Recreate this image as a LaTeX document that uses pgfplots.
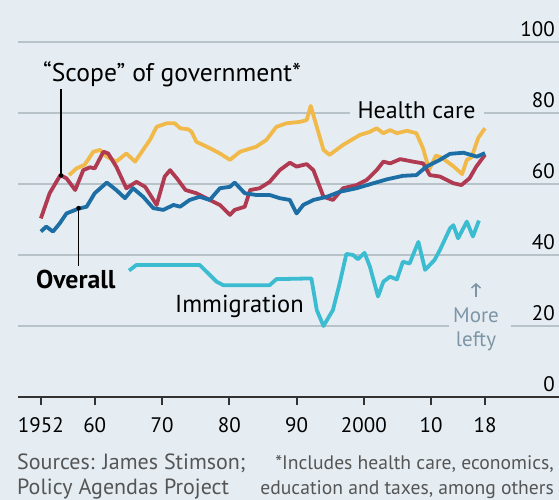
\documentclass[border=0pt]{standalone}
\usepackage{pgfplots}
\pgfplotsset{compat=1.18}
\usepackage{fontspec}
\setmainfont{PT Sans}
\usetikzlibrary{arrows.meta}

\definecolor{bg}{HTML}{E5EDF3}
\definecolor{gridc}{HTML}{B7C2C9}
\definecolor{axisc}{HTML}{333333}
\definecolor{hc}{HTML}{F1B94A}
\definecolor{scope}{HTML}{B03A52}
\definecolor{overall}{HTML}{1C6EA4}
\definecolor{immig}{HTML}{3CBCD0}
\definecolor{lefty}{HTML}{7D95A5}
\definecolor{foot}{HTML}{555555}

\newcommand{\lab}{\fontsize{24bp}{28bp}\selectfont}
\newcommand{\tck}{\fontsize{21bp}{24bp}\selectfont}

\begin{document}
\begin{tikzpicture}[x=1bp,y=1bp]
\fill[bg] (0,0) rectangle (559,500);

\begin{axis}[
at={(18bp,103bp)}, anchor=south west,
scale only axis,
width=541bp, height=355bp,
xmin=1948.6, xmax=2029,
ymin=0, ymax=100,
axis x line*=bottom,
axis y line*=right,
y axis line style={draw=none},
x axis line style={line width=2bp, color=axisc, -},
xtick={1952,1960,1970,1980,1990,2000,2010,2018},
xticklabels={1952,60,70,80,90,2000,10,18},
xtick style={line width=2bp, color=axisc},
tick align=outside,
major tick length=8bp,
ytick={0,20,40,60,80,100},
yticklabels={0,20,40,60,80,100},
ytick style={draw=none},
ymajorgrids,
major grid style={line width=1.6bp, color=gridc},
xticklabel style={font=\tck, text=black, inner sep=0pt, yshift=-12bp},
yticklabel style={font=\tck, text=black, anchor=south east, inner sep=0pt, xshift=-12bp, yshift=5bp},
clip=false,
]

% Health care
\addplot[hc, line width=3.8bp, line join=round] coordinates {
(1956.2,62.5) (1957.3,64.4) (1958.5,65.4) (1959.8,69.1) (1960.8,69.6)
(1961.8,67.7) (1963.2,66.3) (1964.7,68.6) (1966,66.3) (1968.2,72.4)
(1969.2,76.1) (1970.7,77.1) (1971.9,77.1) (1972.7,75.7) (1973.9,75.4)
(1974.4,74.7) (1975.1,71.9) (1977.1,70.1) (1978.6,68.6) (1980.1,66.8)
(1981.6,69.1) (1984,70.5) (1985.5,72.4) (1987,76.1) (1988.5,77.1)
(1990.5,77.5) (1991.5,78) (1992.1,82) (1993,76.1) (1994,69.6)
(1994.9,68.2) (1996.9,71) (1999.4,73.8) (2000.9,74.7) (2001.9,75.7)
(2002.9,74.3) (2003.9,75.2) (2004.9,74.3) (2006.4,75) (2007.8,74.3)
(2008.8,70) (2009.7,64) (2010.7,68) (2011.5,67.5) (2013.3,65)
(2014.6,62.8) (2015.3,66.8) (2016,67.5) (2017,73) (2018,75.7)
};

% Scope of government
\addplot[scope, line width=3.8bp, line join=round] coordinates {
(1952,50.3) (1953.3,57.4) (1954.9,62.5) (1955.8,61.6) (1957.1,58.3)
(1958.3,63.9) (1959.3,64.7) (1960,64.4) (1961.3,69.1) (1962,68.6)
(1963.2,64.9) (1964.7,58.8) (1966.2,60.6) (1967.5,59.2) (1969.2,54.1)
(1970.4,62.1) (1971.2,63.9) (1972.2,61.6) (1973.5,58.3) (1975.1,57.4)
(1977.1,55.5) (1978.6,54.1) (1980.1,51.3) (1980.8,52.7) (1982.3,53.6)
(1983.1,58.3) (1984.5,58.8) (1986,60.6) (1987.5,63.9) (1989,66)
(1990,64.9) (1991.5,65.6) (1992.5,63.9) (1994,56.4) (1995.4,55.5)
(1996.9,58.8) (1998.9,59.7) (2000.4,61.1) (2001.9,63.9) (2002.9,66.3)
(2003.9,65.8) (2005.4,67) (2007.3,66.3) (2008.8,65.8) (2009.8,62.5)
(2011.3,62.1) (2013.3,60.2) (2014.5,59.7) (2015.7,61.6) (2016.7,64.9)
(2018,68.2)
};

% Overall
\addplot[overall, line width=3.8bp, line join=round] coordinates {
(1952,46.6) (1952.8,48) (1953.8,46.6) (1954.8,48.9) (1955.8,51.7)
(1957.5,53) (1958.8,53.6) (1960,57.4) (1961.8,60.4) (1963.2,58.3)
(1964.5,56) (1965.7,58.8) (1967.2,56.4) (1968.7,53.2) (1970.2,52.7)
(1971.7,54.1) (1972.7,53.6) (1974.1,55.5) (1975.6,56.4) (1977.1,55.5)
(1978.6,58.8) (1980.1,59.2) (1980.8,60.4) (1982.3,57.4) (1984,56.9)
(1986,56.9) (1987.5,56) (1989,55.5) (1990,51.7) (1991,54.1)
(1992.5,55.5) (1994.5,56.4) (1996.4,57.8) (1998.9,58.8) (2001.4,60.2)
(2003.4,61.3) (2005.8,62.3) (2007.8,62.5) (2009.3,64.9) (2011.3,66.8)
(2012.8,68.5) (2014.8,68.8) (2016.8,67.7) (2018,68.7)
};

% Immigration
\addplot[immig, line width=3.8bp, line join=round] coordinates {
(1965.1,35.6) (1966.2,37.2) (1975.6,37.2) (1978.1,32.5) (1979.1,31.5)
(1986,31.5) (1987,33.2) (1992.2,33.4) (1993,24.5) (1994,20)
(1995.4,24.5) (1996.4,32) (1997.4,40.3) (1998.4,40) (1999.1,38.8)
(2000.1,40.6) (2000.9,36.7) (2002.1,28.3) (2002.9,32.5) (2003.9,33.9)
(2004.9,33.1) (2005.8,38.1) (2006.8,37.6) (2007.3,40) (2008.1,43.7)
(2009.1,35.8) (2010.5,38.6) (2011.3,41.4) (2012.8,47.5) (2013.3,48.4)
(2014,44.7) (2015.3,49.4) (2016.2,45.2) (2017.1,49.7)
};

% leader lines
\draw[line width=1.3bp, black] (axis cs:1955,62.4) -- (axis cs:1955,86.8);
\fill[black] (axis cs:1955,62.4) circle (2.3bp);
\draw[line width=1.3bp, black] (axis cs:1957.6,53.2) -- (axis cs:1957.6,36.8);
\fill[black] (axis cs:1957.6,53.2) circle (2.3bp);
\end{axis}

% labels
\node[anchor=base west, font=\fontsize{25.6bp}{28bp}\selectfont, inner sep=0pt] at (43,418) {“Scope” of government*};
\node[anchor=base west, font=\fontsize{25.8bp}{28bp}\selectfont\bfseries, inner sep=0pt] at (36,211) {Overall};
\node[anchor=base west, font=\fontsize{24.5bp}{28bp}\selectfont, inner sep=0pt] at (175,187) {Immigration};
\node[anchor=base, font=\lab, fill=bg, inner xsep=8bp, inner ysep=2bp] at (416.5,381) {Health care};

\fill[bg] (449,169) rectangle (511,179);
\node[anchor=base, font=\tck, text=lefty, inner sep=0pt] at (476,177) {More};
\node[anchor=base, font=\tck, text=lefty, inner sep=0pt] at (476,153) {lefty};
\draw[line width=1.5bp, lefty, -{Straight Barb[length=4bp,width=9bp]}] (476,203) -- (476,217);

% footer
\node[anchor=base west, font=\fontsize{22bp}{24bp}\selectfont, text=foot, inner sep=0pt] at (17,30) {Sources: James Stimson;};
\node[anchor=base west, font=\fontsize{22bp}{24bp}\selectfont, text=foot, inner sep=0pt] at (17,5) {Policy Agendas Project};
\node[anchor=base east, font=\fontsize{19.6bp}{24bp}\selectfont, text=foot, inner sep=0pt] at (554,30) {*Includes health care, economics,};
\node[anchor=base east, font=\fontsize{19.6bp}{24bp}\selectfont, text=foot, inner sep=0pt] at (554,5) {education and taxes, among others};

\pgfresetboundingbox
\path (0,0) rectangle (559,500);
\end{tikzpicture}
\end{document}
